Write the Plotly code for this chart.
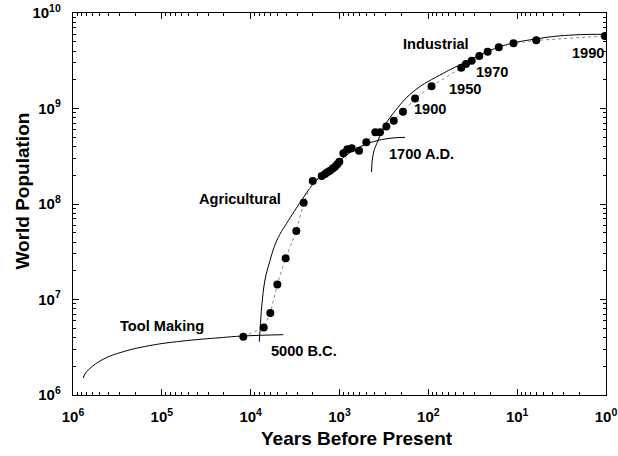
import plotly.graph_objects as go

# Historical world population estimates (years before present, persons)
years_bp = [12100, 7130, 6010, 5010, 4035, 3065, 2530, 2000,
            1585, 1455, 1371, 1279, 1192, 1122, 1059, 1005,
            905, 817, 729, 603, 499, 395, 350, 297, 245, 193,
            141, 92, 42.6, 37.7, 32.5, 26.7, 21.5, 16.1, 11.0, 6.1, 1.03]
population = [4.07e6, 5.1e6, 7.2e6, 14.4e6, 27e6, 52e6, 103e6, 174e6,
              196e6, 206e6, 215e6, 223e6, 236e6, 246e6, 261e6, 277e6,
              340e6, 374e6, 383e6, 362e6, 443e6, 564e6, 564e6, 646e6, 746e6, 926e6,
              1.27e9, 1.71e9, 2.67e9, 2.93e9, 3.17e9, 3.55e9, 3.94e9, 4.37e9, 4.81e9, 5.17e9, 5.74e9]

# Fitted growth curves for the three eras
tool_years = [766000, 733000, 644000, 456000, 272000, 125000, 52500, 22100, 12100, 4300]
tool_pop = [1.50e6, 1.66e6, 1.90e6, 2.37e6, 2.84e6, 3.34e6, 3.71e6, 3.98e6, 4.15e6, 4.28e6]

agri_years = [8000, 7750, 7510, 6900, 6100, 5400, 4700, 3930, 3250, 2660, 2000,
              1455, 986, 588, 416, 270, 183]
agri_pop = [3.61e6, 5.6e6, 8.4e6, 16.0e6, 25e6, 36e6, 48e6, 62.8e6, 83e6, 110e6, 160e6,
            214e6, 289e6, 398e6, 449e6, 488e6, 499e6]

ind_years = [436, 416, 366, 321, 248, 148, 67.8, 40.4, 15.6, 5.53, 2.33, 1.0]
ind_pop = [216e6, 340e6, 468e6, 625e6, 891e6, 1.50e9, 2.34e9, 2.97e9, 4.44e9,
           5.43e9, 5.89e9, 5.98e9]

# Axis ticks
x_major = [1e6, 1e5, 1e4, 1e3, 1e2, 1e1, 1e0]
x_major_text = ["10<sup>6</sup>", "10<sup>5</sup>", "10<sup>4</sup>", "10<sup>3</sup>",
                "10<sup>2</sup>", "10<sup>1</sup>", "10<sup>0</sup>"]
y_major = [1e6, 1e7, 1e8, 1e9, 1e10]
y_major_text = ["10<sup>6</sup>", "10<sup>7</sup>", "10<sup>8</sup>", "10<sup>9</sup>",
                "10<sup>10</sup>"]
x_minor = [k * 10 ** d for d in range(0, 6) for k in range(2, 10)]
y_minor = [k * 10 ** d for d in range(6, 10) for k in range(2, 10)]

# Era labels: (text, log10 years, log10 population)
labels = [
    ("Tool Making", 5.0, 6.72),
    ("5000 B.C.", 3.40, 6.46),
    ("Agricultural", 4.12, 8.05),
    ("1700 A.D.", 2.08, 8.52),
    ("1900", 1.98, 8.99),
    ("1950", 1.587, 9.20),
    ("1970", 1.283, 9.38),
    ("1990", 0.20, 9.58),
    ("Industrial", 1.914, 9.675),
]

FONT = "Liberation Sans, Arial, sans-serif"

fig = go.Figure()

for xs, ys in [(tool_years, tool_pop), (agri_years, agri_pop), (ind_years, ind_pop)]:
    fig.add_trace(go.Scatter(
        x=xs, y=ys, mode="lines",
        line=dict(color="black", width=1, shape="spline", smoothing=1.2),
        hoverinfo="skip", showlegend=False))

fig.add_trace(go.Scatter(
    x=years_bp, y=population, mode="lines+markers",
    line=dict(color="#888888", width=1, dash="dot"),
    marker=dict(color="black", size=8),
    showlegend=False))

axis_common = dict(
    type="log", showgrid=False, zeroline=False, automargin=False,
    showline=True, linecolor="black", linewidth=1.4, mirror="ticks",
    ticks="inside", ticklen=6, tickwidth=1, tickcolor="black",
    tickfont=dict(family=FONT, size=15, color="black", weight="bold"),
)

fig.update_xaxes(
    range=[6, 0], tickvals=x_major, ticktext=x_major_text,
    minor=dict(tickvals=x_minor, ticks="inside", ticklen=3, tickcolor="black", tickwidth=1),
    ticklabelstandoff=8,
    **axis_common)
fig.update_yaxes(
    range=[6, 10], tickvals=y_major, ticktext=y_major_text,
    minor=dict(tickvals=y_minor, ticks="inside", ticklen=3, tickcolor="black", tickwidth=1),
    ticklabelstandoff=8,
    **axis_common)

for text, lx, ly in labels:
    fig.add_annotation(x=lx, y=ly, xref="x", yref="y", text=text, showarrow=False,
                       font=dict(family=FONT, size=14.6, color="black", weight="bold"))

fig.add_annotation(x=0.532, y=-0.115, xref="paper", yref="paper", yanchor="middle",
                   text="Years Before Present", showarrow=False,
                   font=dict(family=FONT, size=19, color="black", weight="bold"))
fig.add_annotation(x=-0.12, y=0.534, xref="paper", yref="paper", textangle=-90,
                   text="World Population", showarrow=False,
                   font=dict(family=FONT, size=19, color="black", weight="bold"))

fig.update_layout(
    width=618, height=456,
    margin=dict(l=73, r=12, t=13, b=61),
    paper_bgcolor="white", plot_bgcolor="white",
    showlegend=False,
)

fig.write_html("out.html")
